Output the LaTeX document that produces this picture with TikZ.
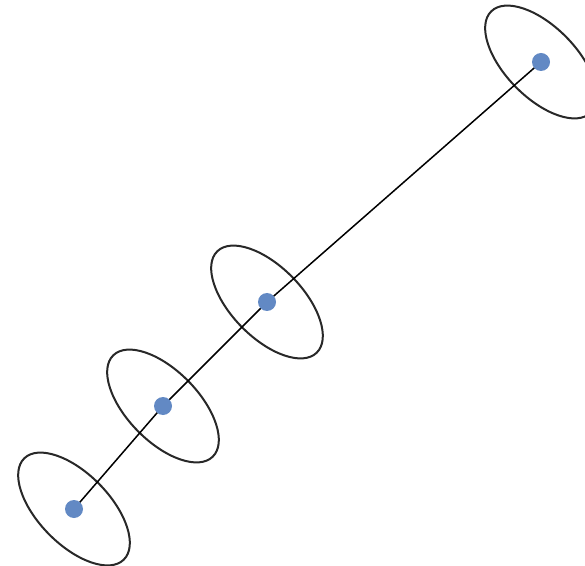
\documentclass[tikz,border=0pt]{standalone}
\definecolor{dotblue}{RGB}{98,137,196}
\definecolor{ringgray}{RGB}{40,40,40}
\tikzset{
  dotnode/.style={circle,fill=dotblue,draw=none,minimum size=18pt,inner sep=0pt},
  ring/.style={draw=ringgray,line width=2pt},
  link/.style={draw=black,line width=1.5pt}
}
\begin{document}
\begin{tikzpicture}[x=1pt,y=1pt]
\useasboundingbox (0,0) rectangle (585,565);
\clip (0,0) rectangle (585,565);
\coordinate (pa) at (74,56);
\coordinate (pb) at (163,159);
\coordinate (pc) at (267,263);
\coordinate (pd) at (541,503);
\foreach \p in {pa,pb,pc,pd}{
  \draw[ring,rotate around={-45.5:(\p)}] (\p) ellipse [x radius=71, y radius=35.5];
}
\draw[link] (pa) -- (pb) -- (pc) -- (pd);
\node[dotnode] (a) at (pa) {};
\node[dotnode] (b) at (pb) {};
\node[dotnode] (c) at (pc) {};
\node[dotnode] (d) at (pd) {};
\end{tikzpicture}
\end{document}
